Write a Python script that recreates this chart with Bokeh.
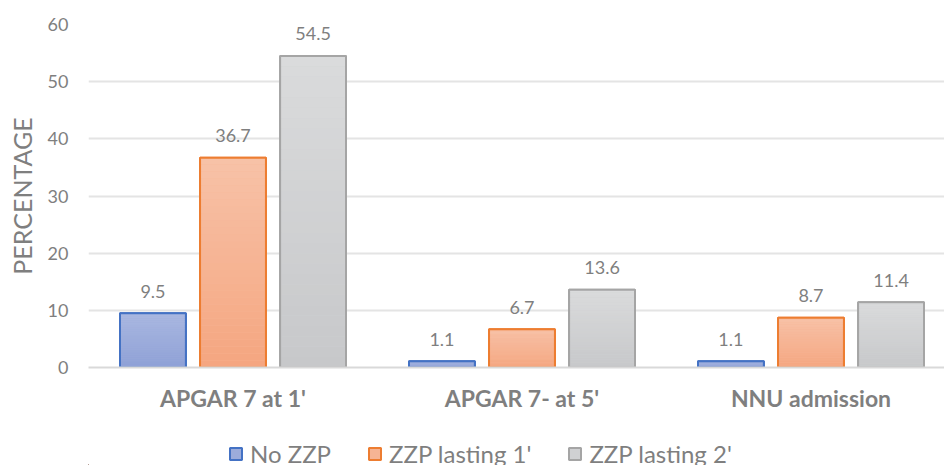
from bokeh.plotting import figure
from bokeh.models import ColumnDataSource, FixedTicker, Legend, LegendItem, Range1d
from bokeh.layouts import column
from bokeh.core.properties import value
from bokeh.embed import file_html
from bokeh.resources import INLINE

# ---- data ----
categories = ["APGAR 7 at 1'", "APGAR 7- at 5'", "NNU admission"]
series_names = ["No ZZP", "ZZP lasting 1'", "ZZP lasting 2'"]
no_zzp = [9.5, 1.1, 1.1]
zzp_1 = [36.7, 6.7, 8.7]
zzp_2 = [54.5, 13.6, 11.4]
y_ticks = [0, 10, 20, 30, 40, 50, 60]

series_values = [no_zzp, zzp_1, zzp_2]
offsets = [-0.277, 0.0, 0.277]
bar_width = 0.228
# (top colour, bottom colour, border colour)
styles = [
    ((170, 184, 225), (142, 160, 214), "#4472c4"),
    ((247, 194, 168), (245, 166, 128), "#ed7d31"),
    ((218, 219, 220), (199, 200, 202), "#a5a5a5"),
]
FONT = "Lato"
TXT = "#7f7f7f"

p = figure(width=944, height=436, output_backend="svg", toolbar_location=None,
           x_range=Range1d(-0.5, 2.462), y_range=Range1d(0, 60))
p.min_border_left = 88
p.min_border_right = 0
p.min_border_top = 24
p.min_border_bottom = 69
p.outline_line_color = None
p.background_fill_color = "white"
p.border_fill_color = "white"

# legend strip (separate figure so the legend can sit below the axis labels)
lg = figure(width=944, height=29, output_backend="svg", toolbar_location=None,
            x_range=Range1d(10, 11), y_range=Range1d(100, 200),
            x_axis_location=None, y_axis_location=None)
lg.min_border_left = 0
lg.min_border_right = 0
lg.min_border_top = 0
lg.min_border_bottom = 0
lg.outline_line_color = None
lg.xgrid.grid_line_color = None
lg.ygrid.grid_line_color = None
lg.border_fill_color = "white"

def hexc(c):
    return "#%02x%02x%02x" % c

N = 30
legend_items = []
for s, (vals, off, (top, bot, border)) in enumerate(zip(series_values, offsets, styles)):
    xs = [i + off for i in range(len(vals))]
    mid = tuple((a + b) // 2 for a, b in zip(top, bot))
    p.vbar(x=xs, top=vals, bottom=0, width=bar_width,
           fill_color=hexc(mid), line_color=border, line_width=2)
    # gradient slices (relative to each bar's own height)
    sx, sb, st, sc = [], [], [], []
    for x, v in zip(xs, vals):
        for k in range(N):
            f0 = k / N
            f1 = (k + 1) / N
            t = (k + 0.5) / N  # 0 bottom -> 1 top
            col = tuple(int(round(b_ + (a_ - b_) * t)) for a_, b_ in zip(top, bot))
            sx.append(x)
            sb.append(v * f0)
            st.append(v * f1)
            sc.append(hexc(col))
    p.vbar(x=sx, top=st, bottom=sb, width=bar_width, fill_color=sc, line_color=None)
    p.vbar(x=xs, top=vals, bottom=0, width=bar_width, fill_color=None,
           line_color=border, line_width=2)
    lab = ColumnDataSource(dict(x=xs, y=vals, t=[f"{v:.1f}" for v in vals]))
    p.text(x="x", y="y", text="t", source=lab, text_align="center",
           text_baseline="alphabetic", y_offset=-22, text_color=TXT,
           text_font=value(FONT), text_font_size="18px")
    # same series in the legend strip (outside its visible range, only the legend shows)
    r = lg.vbar(x=xs, top=vals, bottom=0, width=bar_width,
                fill_color=hexc(mid), line_color=border, line_width=2)
    legend_items.append(LegendItem(label=series_names[s], renderers=[r]))

# grid
p.xgrid.grid_line_color = None
p.ygrid.grid_line_color = "#e4e4e4"
p.ygrid.grid_line_width = 2
p.ygrid.ticker = FixedTicker(ticks=y_ticks)

# y axis
p.yaxis.ticker = FixedTicker(ticks=y_ticks)
p.yaxis.axis_line_color = None
p.yaxis.major_tick_line_color = None
p.yaxis.minor_tick_line_color = None
p.yaxis.major_tick_out = 0
p.yaxis.major_label_standoff = 20
p.yaxis.major_label_text_font = FONT
p.yaxis.major_label_text_font_size = "18px"
p.yaxis.major_label_text_color = TXT
p.yaxis.axis_label = "PERCENTAGE"
p.yaxis.axis_label_text_font = FONT
p.yaxis.axis_label_text_font_size = "25px"
p.yaxis.axis_label_text_font_style = "normal"
p.yaxis.axis_label_text_color = TXT
p.yaxis.axis_label_standoff = 8

# x axis
p.xaxis.ticker = FixedTicker(ticks=list(range(len(categories))))
p.xaxis.major_label_overrides = {i: c for i, c in enumerate(categories)}
p.xaxis.axis_line_color = "#d9d9d9"
p.xaxis.axis_line_width = 2
p.xaxis.major_tick_line_color = None
p.xaxis.minor_tick_line_color = None
p.xaxis.major_tick_out = 0
p.xaxis.major_label_standoff = 16
p.xaxis.major_label_text_font = FONT
p.xaxis.major_label_text_font_size = "23px"
p.xaxis.major_label_text_font_style = "bold"
p.xaxis.major_label_text_color = TXT

legend = Legend(items=legend_items, orientation="horizontal", location=(140, -3),
                label_text_font=FONT, label_text_font_size="24px", label_text_color=TXT,
                glyph_width=15, glyph_height=15, label_standoff=7, spacing=36,
                padding=0, margin=0, border_line_color=None, background_fill_alpha=0)
lg.add_layout(legend)

layout = column(p, lg, spacing=0)
open("out.html", "w").write(file_html(layout, INLINE))
